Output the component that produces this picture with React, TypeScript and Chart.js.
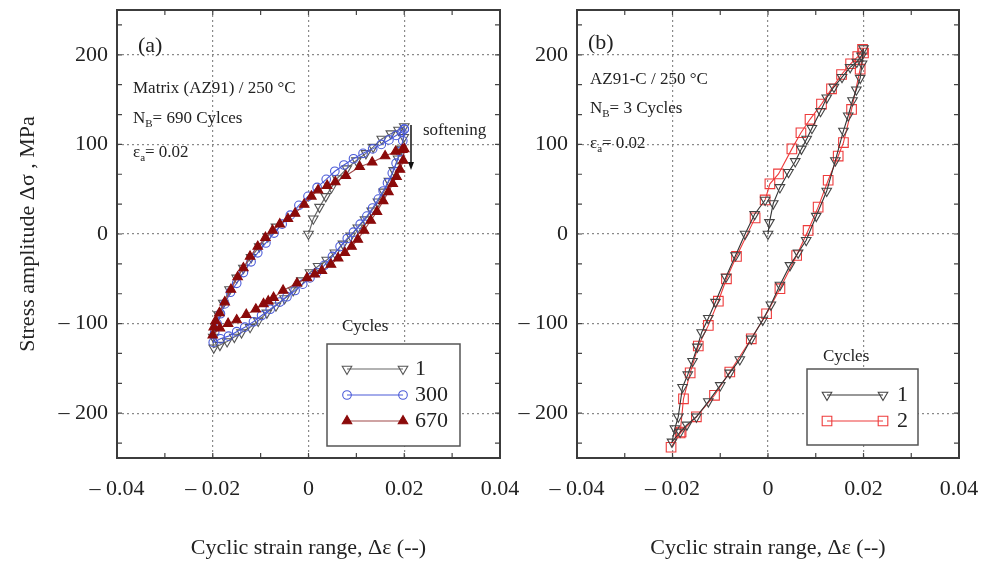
import React, { useEffect, useRef } from "react";
import { Chart, registerables } from "chart.js";
import { drawPoint } from "chart.js/helpers";

Chart.register(...registerables);

const FONT = "'Liberation Serif', 'Times New Roman', serif";

// ---------- tick values ----------
const xTicks = [-0.04, -0.02, 0, 0.02, 0.04];
const yTicks = [-200, -100, 0, 100, 200];
const xMinorTicks = [-0.03, -0.02, -0.01, 0, 0.01, 0.02, 0.03];
const yMinorTicks = [-233.33, -200, -166.67, -133.33, -100, -66.67, -33.33, 0, 33.33, 66.67, 100, 133.33, 166.67, 200, 233.33];

// ---------- panel (a): Matrix AZ91 ----------
const aCycle1Strain = [0, 0.001, 0.0023, 0.0036, 0.0048, 0.006, 0.008, 0.010, 0.012, 0.0135, 0.0153, 0.0172, 0.0188, 0.02, 0.0199, 0.0194, 0.0187, 0.0178, 0.0168, 0.0157, 0.0145, 0.0132, 0.0118, 0.0103, 0.0088, 0.0072, 0.0055, 0.0038, 0.002, 0.0003, -0.0015, -0.0032, -0.005, -0.0068, -0.0087, -0.0105, -0.0122, -0.014, -0.0155, -0.017, -0.0185, -0.0198, -0.0199, -0.0195, -0.0188, -0.0178, -0.0165, -0.015, -0.0136, -0.012, -0.0103, -0.0085, -0.0068];
const aCycle1Stress = [0, 17, 30, 42, 52, 62, 73, 82, 90, 97, 106, 112, 116, 120, 108, 95, 84, 71, 59, 47, 36, 26, 16, 7, -2, -11, -21, -29, -36, -43, -52, -63, -72, -80, -88, -97, -104, -110, -115, -120, -124, -127, -115, -103, -90, -77, -62, -49, -38, -26, -14, -3, 8];

const aCycle300Strain = [0.02, 0.0197, 0.0191, 0.0183, 0.0175, 0.0165, 0.0156, 0.0146, 0.0134, 0.0122, 0.0108, 0.0094, 0.0081, 0.0066, 0.005, 0.0033, 0.0017, 0.0003, -0.0012, -0.0028, -0.0045, -0.006, -0.008, -0.0098, -0.0115, -0.0133, -0.015, -0.0167, -0.0184, -0.0199, -0.0196, -0.0191, -0.0184, -0.0175, -0.0163, -0.015, -0.0136, -0.012, -0.0106, -0.0089, -0.0072, -0.0055, -0.0038, -0.002, -0.0001, 0.0018, 0.0037, 0.0055, 0.0074, 0.0094, 0.0114, 0.0134, 0.0152, 0.0168, 0.0183, 0.0195, 0.02];
const aCycle300Stress = [117, 104, 92, 79, 68, 57, 48, 39, 29, 20, 11, 2, -5, -14, -25, -35, -43, -49, -56, -63, -70, -76, -84, -91, -98, -104, -109, -114, -117, -121, -110, -100, -89, -78, -65, -55, -43, -31, -21, -10, 1, 11, 21, 32, 42, 52, 61, 70, 77, 84, 90, 95, 100, 105, 110, 114, 117];

const aCycle670Strain = [0.02, 0.0198, 0.0191, 0.0184, 0.0176, 0.0167, 0.0156, 0.0143, 0.013, 0.0116, 0.0103, 0.009, 0.0076, 0.0062, 0.0047, 0.0028, 0.0013, -0.0003, -0.0024, -0.0053, -0.0073, -0.0084, -0.0094, -0.011, -0.013, -0.015, -0.0168, -0.0185, -0.02, -0.0198, -0.0194, -0.0186, -0.0175, -0.0162, -0.0148, -0.0136, -0.0122, -0.0106, -0.009, -0.0075, -0.006, -0.0043, -0.0028, -0.0009, 0.0006, 0.002, 0.0039, 0.0056, 0.0078, 0.0107, 0.0133, 0.016, 0.0182, 0.0196];
const aCycle670Stress = [95, 82, 72, 64, 56, 47, 37, 25, 15, 4, -6, -14, -21, -27, -34, -41, -45, -49, -55, -63, -71, -75, -78, -84, -90, -96, -100, -105, -113, -104, -97, -88, -76, -62, -48, -38, -25, -14, -4, 4, 11, 17, 23, 33, 42, 49, 54, 58, 65, 75, 80, 87, 92, 94];

// ---------- panel (b): AZ91-C ----------
const bCycle1Strain = [0, 0.0003, 0.0011, 0.0025, 0.0043, 0.0057, 0.007, 0.0081, 0.0092, 0.011, 0.0123, 0.0138, 0.0155, 0.0172, 0.0186, 0.0196, 0.02, 0.0197, 0.0193, 0.0185, 0.0177, 0.0168, 0.0158, 0.0141, 0.0123, 0.0101, 0.008, 0.0063, 0.0046, 0.0025, 0.0006, -0.0011, -0.0035, -0.0059, -0.008, -0.01, -0.0125, -0.015, -0.017, -0.0184, -0.0201, -0.0195, -0.0188, -0.0179, -0.0168, -0.0158, -0.0148, -0.0139, -0.0125, -0.011, -0.0088, -0.0068, -0.0048, -0.0028, -0.0006];
const bCycle1Stress = [0, 13, 34, 52, 69, 81, 95, 106, 118, 137, 152, 164, 175, 186, 192, 199, 207, 190, 174, 161, 149, 132, 115, 82, 48, 20, -7, -21, -35, -57, -79, -96, -117, -140, -155, -169, -187, -204, -213, -221, -232, -217, -204, -171, -157, -142, -126, -110, -94, -76, -48, -24, 0, 22, 38];

const bCycle2Strain = [-0.0006, 0.0004, 0.0022, 0.005, 0.0069, 0.0088, 0.0112, 0.0133, 0.0154, 0.0173, 0.0188, 0.0198, 0.02, 0.0193, 0.0175, 0.0158, 0.0147, 0.0126, 0.0105, 0.0084, 0.006, 0.0025, -0.0003, -0.0035, -0.008, -0.0112, -0.015, -0.0182, -0.0203, -0.0184, -0.0177, -0.0163, -0.0146, -0.0125, -0.0104, -0.0087, -0.0066, -0.0027];
const bCycle2Stress = [38, 56, 67, 95, 113, 128, 145, 162, 178, 190, 198, 206, 202, 184, 139, 102, 87, 60, 30, 4, -24, -61, -89, -117, -154, -180, -204, -221, -238, -222, -184, -155, -125, -102, -75, -50, -25, 18];

// ---------- helpers ----------
const toPoints = (xs: number[], ys: number[]) => xs.map((x, i) => ({ x, y: ys[i] }));

const fmtX = (v: any) => {
  const n = Number(v);
  if (Math.abs(n) < 1e-9) return "0";
  const s = Math.abs(n).toFixed(2);
  return n < 0 ? "\u2013 " + s : s;
};
const fmtY = (v: any) => {
  const n = Math.round(Number(v));
  return n < 0 ? "\u2013 " + Math.abs(n) : String(n);
};

type Style = {
  label: string;
  line: string;
  stroke: string;
  fill: string;
  pointStyle: any;
  rotation: number;
  radius: number;
};

const sA1: Style = { label: "1", line: "#666", stroke: "#555", fill: "rgba(0,0,0,0)", pointStyle: "triangle", rotation: 180, radius: 5.5 };
const sA300: Style = { label: "300", line: "#4a5ad8", stroke: "#4a5ad8", fill: "rgba(0,0,0,0)", pointStyle: "circle", rotation: 0, radius: 4.3 };
const sA670: Style = { label: "670", line: "#a04848", stroke: "#8b0a0a", fill: "#8b0a0a", pointStyle: "triangle", rotation: 0, radius: 5.5 };
const sB1: Style = { label: "1", line: "#333", stroke: "#444", fill: "rgba(0,0,0,0)", pointStyle: "triangle", rotation: 180, radius: 5.5 };
const sB2: Style = { label: "2", line: "#ee3b3b", stroke: "#ee3b3b", fill: "rgba(0,0,0,0)", pointStyle: "rect", rotation: 0, radius: 6.8 };

const makeDataset = (s: Style, xs: number[], ys: number[]) => ({
  label: s.label,
  data: toPoints(xs, ys),
  showLine: true,
  borderColor: s.line,
  borderWidth: 1.1,
  tension: 0,
  pointStyle: s.pointStyle,
  pointRotation: s.rotation,
  pointRadius: s.radius,
  pointBorderColor: s.stroke,
  pointBackgroundColor: s.fill,
  pointBorderWidth: 1.1,
});

type Part = { t: string; sub?: boolean };
type Note = { parts: Part[]; dx: number; dy: number; size: number };

const drawRich = (ctx: CanvasRenderingContext2D, parts: Part[], x: number, y: number, size: number) => {
  let cx = x;
  for (const p of parts) {
    const fs = p.sub ? Math.round(size * 0.62) : size;
    ctx.font = `${fs}px ${FONT}`;
    ctx.fillText(p.t, cx, p.sub ? y + size * 0.32 : y);
    cx += ctx.measureText(p.t).width;
  }
};

type LegendSpec = {
  boxDx: number; // from chartArea.right
  boxDy: number; // from chartArea.bottom
  w: number;
  h: number;
  titleDx: number;
  titleDy: number;
  rowStart: number;
  rowGap: number;
  textDx: number;
  items: Style[];
};

const makeDecor = (notes: Note[], legend: LegendSpec, arrow: null | { dx: number; dy1: number; dy2: number }) => ({
  id: "decor",
  afterDatasetsDraw(chart: any) {
    const { ctx, chartArea: ca, scales } = chart;
    const xs = scales.x;
    const ys = scales.y;
    ctx.save();
    // inner ticks
    ctx.strokeStyle = "#444";
    ctx.lineWidth = 1.2;
    const tl = 5;
    ctx.beginPath();
    for (const v of xMinorTicks) {
      const px = xs.getPixelForValue(v);
      ctx.moveTo(px, ca.bottom);
      ctx.lineTo(px, ca.bottom - tl);
      ctx.moveTo(px, ca.top);
      ctx.lineTo(px, ca.top + tl);
    }
    for (const v of yMinorTicks) {
      const py = ys.getPixelForValue(v);
      ctx.moveTo(ca.left, py);
      ctx.lineTo(ca.left + tl, py);
      ctx.moveTo(ca.right, py);
      ctx.lineTo(ca.right - tl, py);
    }
    ctx.stroke();
    // frame
    ctx.strokeStyle = "#3c3c3c";
    ctx.lineWidth = 2;
    ctx.strokeRect(ca.left, ca.top, ca.right - ca.left, ca.bottom - ca.top);

    // notes
    ctx.fillStyle = "#222";
    ctx.textBaseline = "middle";
    ctx.textAlign = "left";
    for (const n of notes) drawRich(ctx, n.parts, ca.left + n.dx, ca.top + n.dy, n.size);

    // arrow
    if (arrow) {
      const ax = ca.left + arrow.dx;
      const y1 = ca.top + arrow.dy1;
      const y2 = ca.top + arrow.dy2;
      ctx.strokeStyle = "#111";
      ctx.fillStyle = "#111";
      ctx.lineWidth = 1.5;
      ctx.beginPath();
      ctx.moveTo(ax, y1);
      ctx.lineTo(ax, y2 - 6);
      ctx.stroke();
      ctx.beginPath();
      ctx.moveTo(ax - 3, y2 - 8);
      ctx.lineTo(ax + 3, y2 - 8);
      ctx.lineTo(ax, y2);
      ctx.closePath();
      ctx.fill();
    }

    // legend
    const bx = ca.right - legend.boxDx;
    const by = ca.bottom - legend.boxDy;
    ctx.fillStyle = "#fff";
    ctx.fillRect(bx, by, legend.w, legend.h);
    ctx.strokeStyle = "#555";
    ctx.lineWidth = 1.5;
    ctx.strokeRect(bx, by, legend.w, legend.h);
    ctx.fillStyle = "#222";
    ctx.font = `17px ${FONT}`;
    ctx.fillText("Cycles", bx + legend.titleDx, by + legend.titleDy);
    legend.items.forEach((s, i) => {
      const y = by + legend.rowStart + i * legend.rowGap;
      const x1 = bx + 20;
      const x2 = bx + 76;
      ctx.strokeStyle = s.line;
      ctx.lineWidth = 1.1;
      ctx.beginPath();
      ctx.moveTo(x1, y);
      ctx.lineTo(x2, y);
      ctx.stroke();
      ctx.strokeStyle = s.stroke;
      ctx.fillStyle = s.fill;
      ctx.lineWidth = 1.1;
      drawPoint(ctx, { pointStyle: s.pointStyle, rotation: s.rotation, radius: s.radius, borderWidth: 1.1 } as any, x1, y);
      drawPoint(ctx, { pointStyle: s.pointStyle, rotation: s.rotation, radius: s.radius, borderWidth: 1.1 } as any, x2, y);
      ctx.fillStyle = "#222";
      ctx.font = `22px ${FONT}`;
      ctx.fillText(s.label, bx + legend.textDx, y);
    });
    ctx.restore();
  },
});

const makeConfig = (opts: {
  datasets: any[];
  yWidth: number;
  padRight: number;
  yTitle: string | null;
  decor: any;
}) => ({
  type: "scatter" as const,
  data: { datasets: opts.datasets },
  options: {
    animation: false,
    responsive: false,
    maintainAspectRatio: false,
    events: [],
    layout: { padding: { left: 0, right: opts.padRight, top: 10, bottom: 0 } },
    plugins: { legend: { display: false }, tooltip: { enabled: false } },
    scales: {
      x: {
        type: "linear",
        min: -0.04,
        max: 0.04,
        afterBuildTicks: (s: any) => {
          s.ticks = xTicks.map((v) => ({ value: v }));
        },
        afterFit: (s: any) => {
          s.height = 105;
          s.paddingLeft = 0;
          s.paddingRight = 0;
        },
        ticks: { callback: fmtX, font: { family: FONT, size: 22 }, color: "#222", padding: 18, maxRotation: 0, autoSkip: false },
        grid: { color: "#8a8a8a", lineWidth: 1.2, drawTicks: false },
        border: { display: false, dash: [2, 3] },
        title: {
          display: true,
          text: "Cyclic strain range, \u0394\u03b5 (--)",
          font: { family: FONT, size: 22 },
          color: "#222",
          padding: { top: 0, bottom: 2 },
        },
      },
      y: {
        type: "linear",
        min: -250,
        max: 250,
        afterBuildTicks: (s: any) => {
          s.ticks = yTicks.map((v) => ({ value: v }));
        },
        afterFit: (s: any) => {
          s.width = opts.yWidth;
          s.paddingTop = 0;
          s.paddingBottom = 0;
        },
        ticks: { callback: fmtY, font: { family: FONT, size: 22 }, color: "#222", padding: 9, autoSkip: false },
        grid: { color: "#8a8a8a", lineWidth: 1.2, drawTicks: false },
        border: { display: false, dash: [2, 3] },
        title: {
          display: !!opts.yTitle,
          text: opts.yTitle || "",
          font: { family: FONT, size: 22 },
          color: "#222",
          padding: { top: 15, bottom: 0 },
        },
      },
    },
  },
  plugins: [opts.decor],
});

function Panel({ left, width, build }: { left: number; width: number; build: () => any }) {
  const ref = useRef<HTMLCanvasElement>(null);
  useEffect(() => {
    const chart = new Chart(ref.current as HTMLCanvasElement, build());
    return () => chart.destroy();
  }, []);
  return (
    <canvas
      ref={ref}
      width={width}
      height={563}
      style={{ position: "absolute", left, top: 0, width, height: 563 }}
    />
  );
}

const buildA = () =>
  makeConfig({
    datasets: [
      makeDataset(sA670, aCycle670Strain, aCycle670Stress),
      makeDataset(sA300, aCycle300Strain, aCycle300Stress),
      makeDataset(sA1, aCycle1Strain, aCycle1Stress),
    ],
    yWidth: 117,
    padRight: 20,
    yTitle: "Stress amplitude \u0394\u03c3 , MPa",
    decor: makeDecor(
      [
        { parts: [{ t: "(a)" }], dx: 21, dy: 36, size: 22 },
        { parts: [{ t: "Matrix (AZ91) / 250 \u00b0C" }], dx: 16, dy: 79, size: 17 },
        { parts: [{ t: "N" }, { t: "B", sub: true }, { t: "= 690 Cylces" }], dx: 16, dy: 109, size: 17 },
        { parts: [{ t: "\u03b5" }, { t: "a", sub: true }, { t: "= 0.02" }], dx: 16, dy: 143, size: 17 },
        { parts: [{ t: "softening" }], dx: 306, dy: 121, size: 17 },
      ],
      { boxDx: 173, boxDy: 114, w: 133, h: 102, titleDx: 15, titleDy: -17, rowStart: 25, rowGap: 26, textDx: 88, items: [sA1, sA300, sA670] },
      { dx: 294, dy1: 115, dy2: 160 }
    ),
  });

const buildB = () =>
  makeConfig({
    datasets: [makeDataset(sB1, bCycle1Strain, bCycle1Stress), makeDataset(sB2, bCycle2Strain, bCycle2Stress)],
    yWidth: 87,
    padRight: 27,
    yTitle: null,
    decor: makeDecor(
      [
        { parts: [{ t: "(b)" }], dx: 11, dy: 33, size: 22 },
        { parts: [{ t: "AZ91-C / 250 \u00b0C" }], dx: 13, dy: 70, size: 17 },
        { parts: [{ t: "N" }, { t: "B", sub: true }, { t: "= 3 Cycles" }], dx: 13, dy: 99, size: 17 },
        { parts: [{ t: "\u03b5" }, { t: "a", sub: true }, { t: "= 0.02" }], dx: 13, dy: 134, size: 17 },
      ],
      { boxDx: 152, boxDy: 89, w: 111, h: 76, titleDx: 16, titleDy: -12, rowStart: 26, rowGap: 26, textDx: 90, items: [sB1, sB2] },
      null
    ),
  });

export default function App() {
  return (
    <div style={{ position: "absolute", left: 0, top: 0, width: 986, height: 563, background: "#fff" }}>
      <Panel left={0} width={520} build={buildA} />
      <Panel left={490} width={496} build={buildB} />
    </div>
  );
}
